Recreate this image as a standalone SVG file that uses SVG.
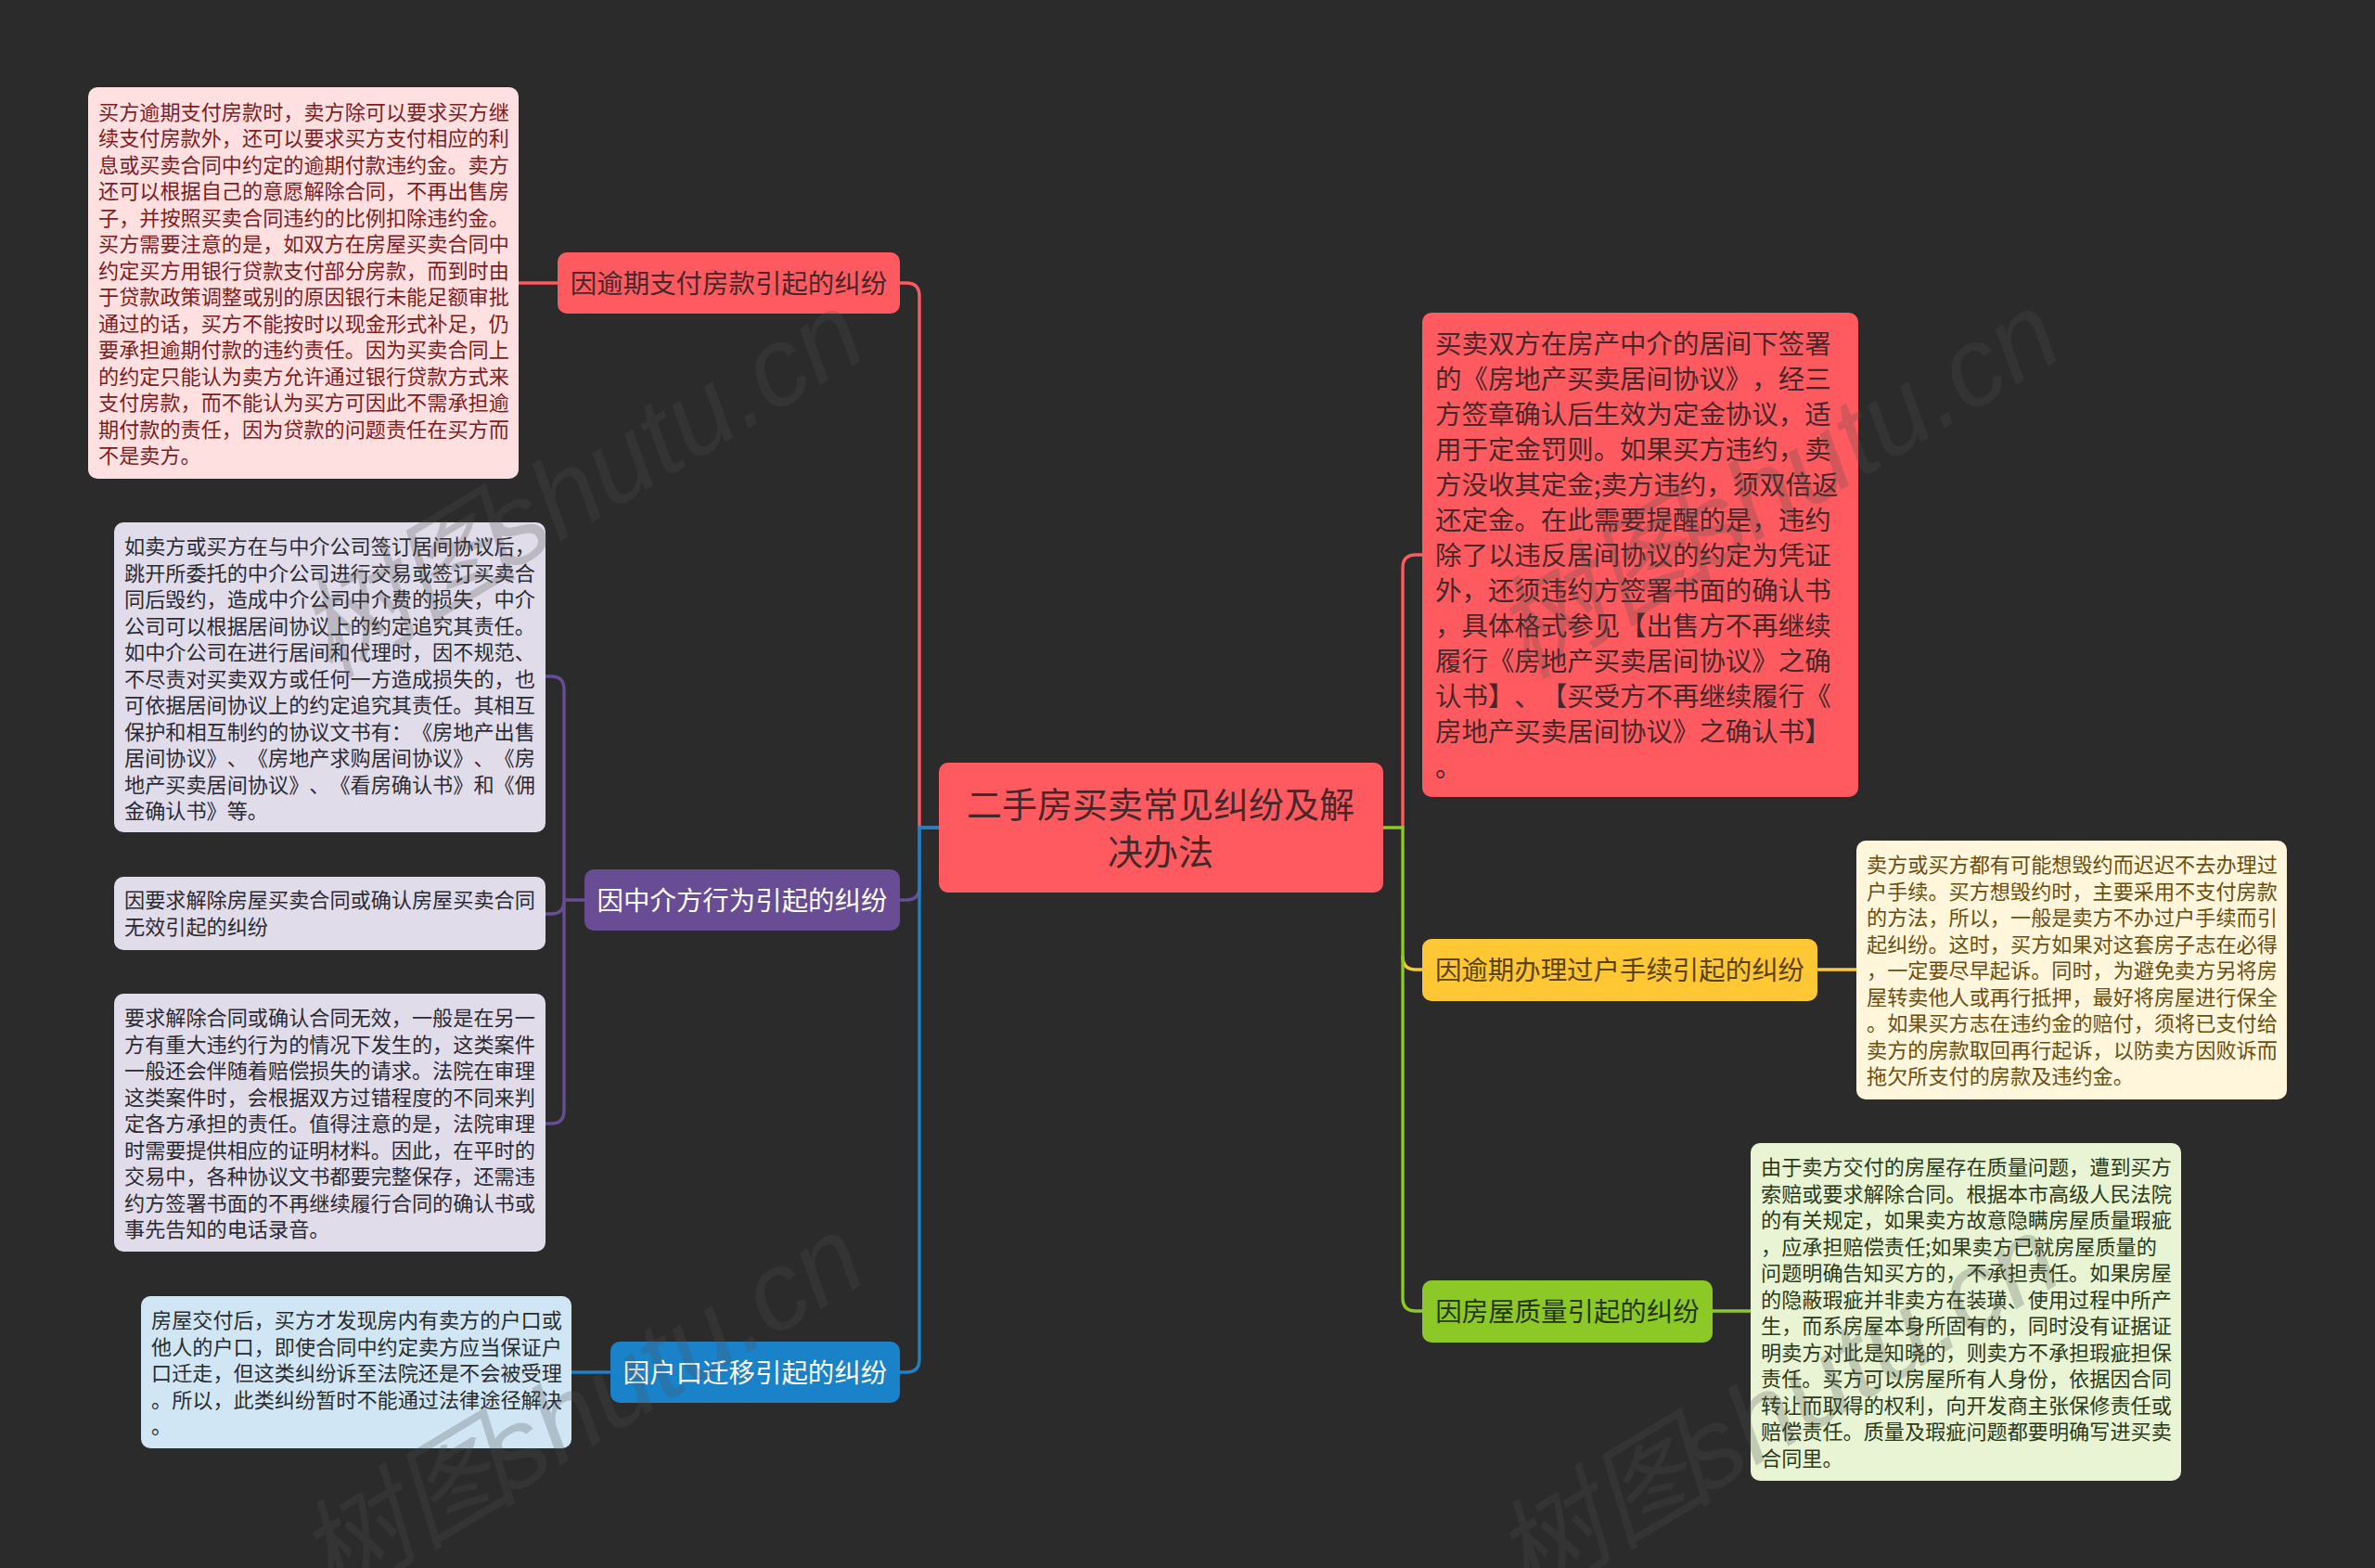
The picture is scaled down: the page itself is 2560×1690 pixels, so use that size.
<svg xmlns="http://www.w3.org/2000/svg" width="2560" height="1690" viewBox="0 0 2560 1690">
<style>
text{font-family:"Noto Sans CJK SC","Noto Sans",sans-serif;text-spacing-trim:space-all;font-feature-settings:"chws" 0,"palt" 0}
.conn{fill:none;stroke-width:3.4;stroke-linecap:round}
.leaf{font-size:22.15px}
.big{font-size:28.45px}
.root{font-size:38px;text-anchor:middle;fill:#47282a}
.br{font-size:28.45px;text-anchor:middle}
.wm{font-family:"Liberation Sans","Noto Sans CJK SC",sans-serif;font-style:italic;font-size:120px;fill:#4f4f4f;opacity:.25}
</style>
<rect width="2560" height="1690" fill="#2b2b2b"/>
<g id="connectors">
<path class="conn" stroke="#684c94" d="M588 729H594Q608 729 608 743V1197Q608 1211 594 1211H588M588 985H594Q608 985 608 971M608 970H630"/>
<path class="conn" stroke="#684c94" d="M970 970H977Q991 970 991 956V892"/>
<path class="conn" stroke="#ff5a5f" d="M559 305H601M970 305H977Q991 305 991 319V892H1012"/>
<path class="conn" stroke="#1a82c9" d="M616 1479H658M970 1479H977Q991 1479 991 1465V892H1012"/>
<path class="conn" stroke="#ff5a5f" d="M1512 892V612Q1512 598 1526 598H1533"/>
<path class="conn" stroke="#ffc734" d="M1512 1031Q1512 1045 1526 1045H1533M1959 1045H2001"/>
<path class="conn" stroke="#8dc926" d="M1491 892H1512V1399Q1512 1413 1526 1413H1533M1846 1413H1887"/>
</g>
<g id="root">
<rect x="1012" y="822" width="479" height="140" rx="10" fill="#ff5a5f"/>
<text class="root" x="1251"><tspan x="1251" y="881">二手房买卖常见纠纷及解</tspan><tspan x="1251" y="932">决办法</tspan></text>
</g>
<g id="branch-overdue-payment">
<rect x="601" y="272" width="369" height="66" rx="10" fill="#ff5a5f"/>
<text class="br" x="785.5" y="316" fill="#47282a">因逾期支付房款引起的纠纷</text>
</g>
<g id="leaf-overdue-payment">
<rect x="95" y="94" width="464" height="422" rx="10" fill="#ffe0e1"/>
<text class="leaf" fill="#7d1d1f"><tspan x="106" y="128.5">买方逾期支付房款时，卖方除可以要求买方继</tspan><tspan x="106" y="157">续支付房款外，还可以要求买方支付相应的利</tspan><tspan x="106" y="185.5">息或买卖合同中约定的逾期付款违约金。卖方</tspan><tspan x="106" y="214">还可以根据自己的意愿解除合同，不再出售房</tspan><tspan x="106" y="242.5">子，并按照买卖合同违约的比例扣除违约金。</tspan><tspan x="106" y="271">买方需要注意的是，如双方在房屋买卖合同中</tspan><tspan x="106" y="299.5">约定买方用银行贷款支付部分房款，而到时由</tspan><tspan x="106" y="328">于贷款政策调整或别的原因银行未能足额审批</tspan><tspan x="106" y="356.5">通过的话，买方不能按时以现金形式补足，仍</tspan><tspan x="106" y="385">要承担逾期付款的违约责任。因为买卖合同上</tspan><tspan x="106" y="413.5">的约定只能认为卖方允许通过银行贷款方式来</tspan><tspan x="106" y="442">支付房款，而不能认为买方可因此不需承担逾</tspan><tspan x="106" y="470.5">期付款的责任，因为贷款的问题责任在买方而</tspan><tspan x="106" y="499">不是卖方。</tspan></text>
</g>
<g id="branch-agent">
<rect x="630" y="937" width="340" height="66" rx="10" fill="#684c94"/>
<text class="br" x="800" y="981" fill="#fff">因中介方行为引起的纠纷</text>
</g>
<g id="leaf-agent-a">
<rect x="123" y="563" width="465" height="334" rx="10" fill="#e1dcea"/>
<text class="leaf" fill="#2b2a33"><tspan x="134" y="597">如卖方或买方在与中介公司签订居间协议后，</tspan><tspan x="134" y="625.5">跳开所委托的中介公司进行交易或签订买卖合</tspan><tspan x="134" y="654">同后毁约，造成中介公司中介费的损失，中介</tspan><tspan x="134" y="682.5">公司可以根据居间协议上的约定追究其责任。</tspan><tspan x="134" y="711">如中介公司在进行居间和代理时，因不规范、</tspan><tspan x="134" y="739.5">不尽责对买卖双方或任何一方造成损失的，也</tspan><tspan x="134" y="768">可依据居间协议上的约定追究其责任。其相互</tspan><tspan x="134" y="796.5">保护和相互制约的协议文书有：《房地产出售</tspan><tspan x="134" y="825">居间协议》、《房地产求购居间协议》、《房</tspan><tspan x="134" y="853.5">地产买卖居间协议》、《看房确认书》和《佣</tspan><tspan x="134" y="882">金确认书》等。</tspan></text>
</g>
<g id="leaf-agent-b">
<rect x="123" y="945" width="465" height="79" rx="10" fill="#e1dcea"/>
<text class="leaf" fill="#2b2a33"><tspan x="134" y="978">因要求解除房屋买卖合同或确认房屋买卖合同</tspan><tspan x="134" y="1006.5">无效引起的纠纷</tspan></text>
</g>
<g id="leaf-agent-c">
<rect x="123" y="1071" width="465" height="278" rx="10" fill="#e1dcea"/>
<text class="leaf" fill="#2b2a33"><tspan x="134" y="1105">要求解除合同或确认合同无效，一般是在另一</tspan><tspan x="134" y="1133.5">方有重大违约行为的情况下发生的，这类案件</tspan><tspan x="134" y="1162">一般还会伴随着赔偿损失的请求。法院在审理</tspan><tspan x="134" y="1190.5">这类案件时，会根据双方过错程度的不同来判</tspan><tspan x="134" y="1219">定各方承担的责任。值得注意的是，法院审理</tspan><tspan x="134" y="1247.5">时需要提供相应的证明材料。因此，在平时的</tspan><tspan x="134" y="1276">交易中，各种协议文书都要完整保存，还需违</tspan><tspan x="134" y="1304.5">约方签署书面的不再继续履行合同的确认书或</tspan><tspan x="134" y="1333">事先告知的电话录音。</tspan></text>
</g>
<g id="branch-hukou">
<rect x="658" y="1446" width="312" height="66" rx="10" fill="#1a82c9"/>
<text class="br" x="814" y="1490" fill="#fff">因户口迁移引起的纠纷</text>
</g>
<g id="leaf-hukou">
<rect x="152" y="1397" width="464" height="164" rx="10" fill="#d1e6f4"/>
<text class="leaf" fill="#2a2d30"><tspan x="163" y="1431">房屋交付后，买方才发现房内有卖方的户口或</tspan><tspan x="163" y="1459.5">他人的户口，即使合同中约定卖方应当保证户</tspan><tspan x="163" y="1488">口迁走，但这类纠纷诉至法院还是不会被受理</tspan><tspan x="163" y="1516.5">。所以，此类纠纷暂时不能通过法律途径解决</tspan><tspan x="163" y="1545">。</tspan></text>
</g>
<g id="leaf-deposit">
<rect x="1533" y="337" width="470" height="522" rx="10" fill="#ff5a5f"/>
<text class="big" fill="#47282a"><tspan x="1547" y="380.5">买卖双方在房产中介的居间下签署</tspan><tspan x="1547" y="418.5">的《房地产买卖居间协议》，经三</tspan><tspan x="1547" y="456.5">方签章确认后生效为定金协议，适</tspan><tspan x="1547" y="494.5">用于定金罚则。如果买方违约，卖</tspan><tspan x="1547" y="532.5">方没收其定金;卖方违约，须双倍返</tspan><tspan x="1547" y="570.5">还定金。在此需要提醒的是，违约</tspan><tspan x="1547" y="608.5">除了以违反居间协议的约定为凭证</tspan><tspan x="1547" y="646.5">外，还须违约方签署书面的确认书</tspan><tspan x="1547" y="684.5">，具体格式参见【出售方不再继续</tspan><tspan x="1547" y="722.5">履行《房地产买卖居间协议》之确</tspan><tspan x="1547" y="760.5">认书】、【买受方不再继续履行《</tspan><tspan x="1547" y="798.5">房地产买卖居间协议》之确认书】</tspan><tspan x="1547" y="836.5">。</tspan></text>
</g>
<g id="branch-transfer">
<rect x="1533" y="1012" width="426" height="67" rx="10" fill="#ffc734"/>
<text class="br" x="1746" y="1056" fill="#5a4208">因逾期办理过户手续引起的纠纷</text>
</g>
<g id="leaf-transfer">
<rect x="2001" y="906" width="464" height="279" rx="10" fill="#fff6dc"/>
<text class="leaf" fill="#6b4e10"><tspan x="2012" y="940">卖方或买方都有可能想毁约而迟迟不去办理过</tspan><tspan x="2012" y="968.5">户手续。买方想毁约时，主要采用不支付房款</tspan><tspan x="2012" y="997">的方法，所以，一般是卖方不办过户手续而引</tspan><tspan x="2012" y="1025.5">起纠纷。这时，买方如果对这套房子志在必得</tspan><tspan x="2012" y="1054">，一定要尽早起诉。同时，为避免卖方另将房</tspan><tspan x="2012" y="1082.5">屋转卖他人或再行抵押，最好将房屋进行保全</tspan><tspan x="2012" y="1111">。如果买方志在违约金的赔付，须将已支付给</tspan><tspan x="2012" y="1139.5">卖方的房款取回再行起诉，以防卖方因败诉而</tspan><tspan x="2012" y="1168">拖欠所支付的房款及违约金。</tspan></text>
</g>
<g id="branch-quality">
<rect x="1533" y="1380" width="313" height="67" rx="10" fill="#8dc926"/>
<text class="br" x="1689.5" y="1424" fill="#25360a">因房屋质量引起的纠纷</text>
</g>
<g id="leaf-quality">
<rect x="1887" y="1232" width="464" height="364" rx="10" fill="#e8f4d4"/>
<text class="leaf" fill="#2c3a1a"><tspan x="1898" y="1266">由于卖方交付的房屋存在质量问题，遭到买方</tspan><tspan x="1898" y="1294.5">索赔或要求解除合同。根据本市高级人民法院</tspan><tspan x="1898" y="1323">的有关规定，如果卖方故意隐瞒房屋质量瑕疵</tspan><tspan x="1898" y="1351.5">，应承担赔偿责任;如果卖方已就房屋质量的</tspan><tspan x="1898" y="1380">问题明确告知买方的，不承担责任。如果房屋</tspan><tspan x="1898" y="1408.5">的隐蔽瑕疵并非卖方在装璜、使用过程中所产</tspan><tspan x="1898" y="1437">生，而系房屋本身所固有的，同时没有证据证</tspan><tspan x="1898" y="1465.5">明卖方对此是知晓的，则卖方不承担瑕疵担保</tspan><tspan x="1898" y="1494">责任。买方可以房屋所有人身份，依据因合同</tspan><tspan x="1898" y="1522.5">转让而取得的权利，向开发商主张保修责任或</tspan><tspan x="1898" y="1551">赔偿责任。质量及瑕疵问题都要明确写进买卖</tspan><tspan x="1898" y="1579.5">合同里。</tspan></text>
</g>
<g id="watermark">
<text class="wm" transform="translate(355 733) rotate(-31)">树图 <tspan dx="-45">shutu.cn</tspan></text>
<text class="wm" transform="translate(1644 733) rotate(-31)">树图 <tspan dx="-45">shutu.cn</tspan></text>
<text class="wm" transform="translate(355 1729) rotate(-31)">树图 <tspan dx="-45">shutu.cn</tspan></text>
<text class="wm" transform="translate(1644 1729) rotate(-31)">树图 <tspan dx="-45">shutu.cn</tspan></text>
</g>
</svg>
